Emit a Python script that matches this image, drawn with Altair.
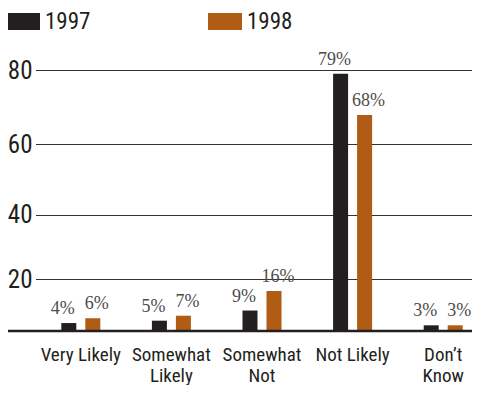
import altair as alt
import pandas as pd

categories = ["Very Likely", "Somewhat Likely", "Somewhat Not", "Not Likely", "Don’t Know"]
years = ["1997", "1998"]
values_1997 = [4, 5, 9, 79, 3]
values_1998 = [6, 7, 16, 68, 3]
y_ticks = [20, 40, 60, 80]
colors = ["#231f20", "#b05c14"]

rows = []
for c, a, b in zip(categories, values_1997, values_1998):
    rows.append({"category": c, "year": "1997", "value": a})
    rows.append({"category": c, "year": "1998", "value": b})
df = pd.DataFrame(rows)
df["label"] = df["value"].astype(str) + "%"

NARROW = "Liberation Sans Narrow, Arial Narrow, Roboto Condensed, sans-serif"
SERIF = "Liberation Serif, Times New Roman, serif"
INK = "#231f20"

x_enc = alt.X(
    "category:N",
    sort=categories,
    scale=alt.Scale(range=[-4.5, 448.5], paddingInner=0.5695, paddingOuter=0.28475),
    axis=alt.Axis(
        title=None, domain=False, ticks=False, labelAngle=0,
        labelFont=NARROW, labelFontSize=19, labelColor=INK,
        labelPadding=14, labelBaseline="top", labelLineHeight=21,
        labelExpr="datum.label == 'Very Likely' || datum.label == 'Not Likely' ? datum.label : split(datum.label, ' ')",
    ),
)
xoff_enc = alt.XOffset(
    "year:N", sort=years,
    scale=alt.Scale(paddingInner=0.375, paddingOuter=0),
)
y_enc = alt.Y(
    "value:Q",
    scale=alt.Scale(type="pow", exponent=1.165, domain=[0, 80], nice=False),
    axis=alt.Axis(
        title=None, values=y_ticks, domain=False, ticks=False,
        labelFont=NARROW, labelFontSize=25, labelColor=INK, labelPadding=8,
        grid=True, gridColor="#333333", gridWidth=1,
    ),
)
color_enc = alt.Color(
    "year:N",
    scale=alt.Scale(domain=years, range=colors),
    legend=alt.Legend(
        title=None, orient="none", legendX=-34, legendY=-65.5,
        direction="horizontal", symbolType="M-1,-0.5H1V0.5H-1Z",
        symbolSize=1156, symbolStrokeWidth=0, symbolOpacity=1,
        labelFont=NARROW, labelFontSize=23, labelColor=INK,
        labelOffset=5, columnPadding=117, padding=0,
    ),
)

base = alt.Chart(df)
bars = base.mark_bar().encode(x=x_enc, xOffset=xoff_enc, y=y_enc, color=color_enc)

def value_text(year, dx):
    return base.transform_filter(alt.datum.year == year).mark_text(
        font=SERIF, fontSize=18, color="#4d4d4d", baseline="alphabetic", dy=-9, dx=dx
    ).encode(x=x_enc, xOffset=xoff_enc, y=y_enc, text="label:N")

baseline = alt.Chart(pd.DataFrame({"v": [0]})).mark_rule(color=INK, strokeWidth=2.5).encode(
    x=alt.value(-34), x2=alt.value(432), y=alt.Y("v:Q")
)

chart = alt.layer(bars, value_text("1997", -6), value_text("1998", 4), baseline).properties(
    width=432, height=261,
    padding={"left": 32, "top": 62, "right": 0, "bottom": 54},
    autosize=alt.AutoSizeParams(type="none"),
).configure_view(stroke=None)

chart.save("out.html", embed_options={"renderer": "svg", "actions": False})
